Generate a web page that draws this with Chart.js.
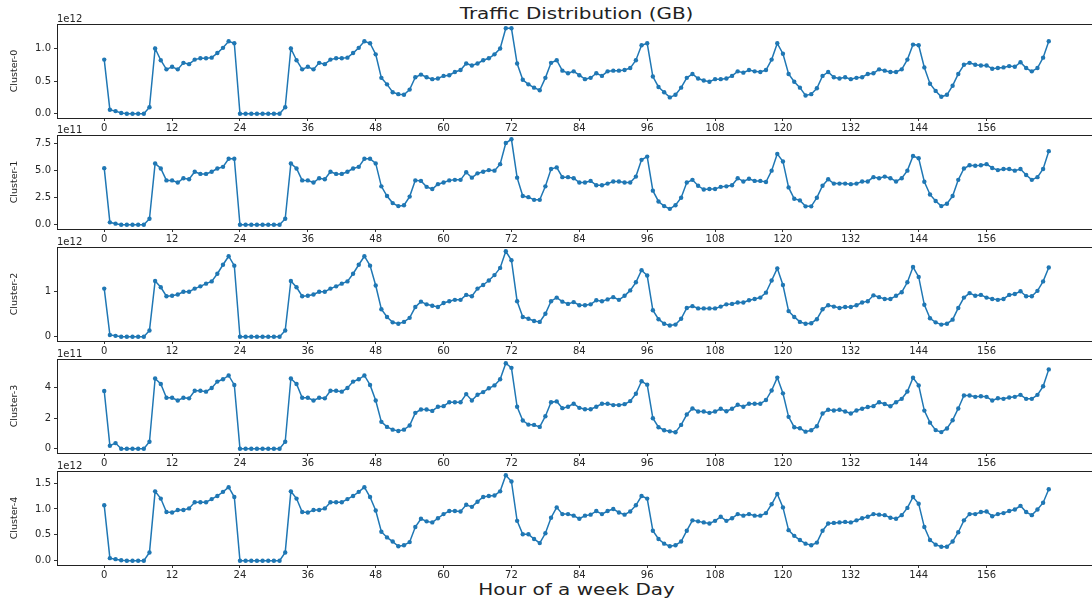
<!DOCTYPE html>
<html>
<head>
<meta charset="utf-8">
<script src="https://cdn.jsdelivr.net/npm/chart.js@4/dist/chart.umd.min.js"></script>
<style>
  html, body { margin: 0; padding: 0; background: #fff; }
  #figure { position: relative; width: 1092px; height: 602px; overflow: hidden; font-family: "DejaVu Sans", sans-serif; color: #222; }
  .panel { position: absolute; left: 0; width: 1100px; height: 128px; }
  .label { position: absolute; left: 57px; width: 1039px; text-align: center; font-size: 15px; line-height: 18px; transform: scaleX(1.33); }
</style>
</head>
<body>
<div id="figure">
  <div class="label" style="top:5px">Traffic Distribution (GB)</div>
  <div class="label" style="top:581px">Hour of a week Day</div>
</div>
<script>
// hour of the week (x values) and tick labels
const hours = Array.from({ length: 168 }, (_, i) => i);
const xTicks = [0, 12, 24, 36, 48, 60, 72, 84, 96, 108, 120, 132, 144, 156];

const clusterNames = ['Cluster-0', 'Cluster-1', 'Cluster-2', 'Cluster-3', 'Cluster-4'];
const exponents = ['1e12', '1e11', '1e12', '1e11', '1e12'];

// values in units of the exponent shown above each panel
const cluster0 = [
  0.83, 0.06, 0.04, 0.01, 0, 0, 0, 0, 0.10, 1.00, 0.82, 0.68,
  0.72, 0.68, 0.78, 0.76, 0.83, 0.85, 0.85, 0.86, 0.93, 1.01, 1.11, 1.08,
  0, 0, 0, 0, 0, 0, 0, 0, 0.10, 1.00, 0.82, 0.68,
  0.72, 0.68, 0.78, 0.76, 0.83, 0.85, 0.85, 0.86, 0.93, 1.01, 1.11, 1.08,
  0.91, 0.55, 0.45, 0.33, 0.30, 0.29, 0.37, 0.56, 0.60, 0.56, 0.53, 0.54,
  0.58, 0.59, 0.64, 0.67, 0.77, 0.74, 0.77, 0.82, 0.85, 0.91, 1.00, 1.31,
  1.31, 0.77, 0.52, 0.45, 0.40, 0.36, 0.55, 0.78, 0.82, 0.66, 0.62, 0.65,
  0.59, 0.53, 0.55, 0.62, 0.58, 0.65, 0.66, 0.66, 0.67, 0.70, 0.82, 1.05,
  1.08, 0.57, 0.41, 0.33, 0.25, 0.29, 0.40, 0.55, 0.61, 0.54, 0.51, 0.49,
  0.53, 0.53, 0.54, 0.58, 0.65, 0.63, 0.67, 0.65, 0.64, 0.67, 0.83, 1.08,
  0.92, 0.61, 0.49, 0.40, 0.28, 0.30, 0.39, 0.58, 0.64, 0.56, 0.54, 0.56,
  0.53, 0.55, 0.56, 0.61, 0.62, 0.68, 0.66, 0.64, 0.64, 0.68, 0.83, 1.06,
  1.05, 0.71, 0.46, 0.35, 0.26, 0.29, 0.43, 0.61, 0.75, 0.78, 0.75, 0.74,
  0.74, 0.69, 0.70, 0.71, 0.73, 0.72, 0.79, 0.70, 0.65, 0.70, 0.86, 1.11
];
const cluster1 = [
  5.23, 0.22, 0.10, 0, 0, 0, 0, 0, 0.55, 5.67, 5.20, 4.10,
  4.10, 3.90, 4.30, 4.20, 4.90, 4.70, 4.70, 4.90, 5.20, 5.35, 6.10, 6.10,
  0, 0, 0, 0, 0, 0, 0, 0, 0.55, 5.67, 5.20, 4.10,
  4.10, 3.90, 4.30, 4.20, 4.90, 4.70, 4.70, 4.90, 5.20, 5.35, 6.10, 6.10,
  5.67, 3.55, 2.65, 2.00, 1.72, 1.80, 2.60, 4.10, 4.05, 3.50, 3.30, 3.75,
  3.90, 4.10, 4.15, 4.15, 4.85, 4.35, 4.75, 4.90, 5.05, 5.00, 5.60, 7.55,
  7.90, 4.35, 2.65, 2.55, 2.30, 2.30, 3.55, 5.15, 5.30, 4.40, 4.40, 4.30,
  3.90, 3.90, 4.05, 3.65, 3.65, 3.80, 4.00, 4.00, 3.90, 3.90, 4.45, 6.00,
  6.30, 3.15, 2.15, 1.72, 1.47, 1.80, 2.50, 3.90, 4.15, 3.60, 3.25, 3.30,
  3.30, 3.50, 3.55, 3.65, 4.30, 4.00, 4.25, 4.05, 4.05, 3.95, 5.00, 6.55,
  5.85, 3.45, 2.40, 2.25, 1.70, 1.70, 2.50, 3.60, 4.20, 3.80, 3.80, 3.80,
  3.75, 3.80, 4.00, 4.00, 4.40, 4.30, 4.45, 4.30, 4.00, 4.30, 5.00, 6.35,
  6.15, 3.97, 2.80, 2.20, 1.72, 1.94, 2.65, 4.15, 5.20, 5.50, 5.45, 5.50,
  5.60, 5.25, 5.05, 5.15, 5.15, 5.00, 5.15, 4.60, 4.15, 4.40, 5.15, 6.80
];
const cluster2 = [
  1.07, 0.04, 0.02, 0, 0, 0, 0, 0, 0.14, 1.24, 1.10, 0.90,
  0.91, 0.94, 1.00, 1.00, 1.07, 1.12, 1.18, 1.23, 1.40, 1.60, 1.79, 1.58,
  0, 0, 0, 0, 0, 0, 0, 0, 0.14, 1.24, 1.10, 0.90,
  0.91, 0.94, 1.00, 1.00, 1.07, 1.12, 1.18, 1.23, 1.40, 1.60, 1.79, 1.58,
  1.14, 0.61, 0.44, 0.32, 0.29, 0.33, 0.42, 0.66, 0.78, 0.72, 0.69, 0.66,
  0.75, 0.79, 0.82, 0.82, 0.93, 0.90, 1.07, 1.15, 1.25, 1.37, 1.53, 1.90,
  1.70, 0.79, 0.44, 0.40, 0.35, 0.33, 0.51, 0.79, 0.87, 0.78, 0.73, 0.77,
  0.70, 0.70, 0.72, 0.81, 0.79, 0.83, 0.88, 0.82, 0.91, 1.03, 1.21, 1.48,
  1.36, 0.59, 0.39, 0.29, 0.25, 0.27, 0.40, 0.64, 0.68, 0.63, 0.63, 0.63,
  0.63, 0.67, 0.72, 0.73, 0.76, 0.76, 0.81, 0.84, 0.87, 0.98, 1.25, 1.52,
  1.15, 0.57, 0.44, 0.33, 0.29, 0.30, 0.39, 0.61, 0.70, 0.67, 0.64, 0.66,
  0.66, 0.70, 0.76, 0.79, 0.92, 0.88, 0.84, 0.84, 0.91, 0.99, 1.21, 1.55,
  1.33, 0.71, 0.41, 0.32, 0.27, 0.29, 0.38, 0.64, 0.87, 0.97, 0.91, 0.93,
  0.87, 0.84, 0.82, 0.84, 0.93, 0.95, 1.01, 0.90, 0.90, 1.02, 1.23, 1.54
];
const cluster3 = [
  3.78, 0.20, 0.37, 0, 0, 0, 0, 0, 0.46, 4.60, 4.24, 3.34,
  3.34, 3.16, 3.34, 3.30, 3.80, 3.80, 3.74, 3.98, 4.40, 4.55, 4.80, 4.18,
  0, 0, 0, 0, 0, 0, 0, 0, 0.46, 4.60, 4.24, 3.34,
  3.34, 3.16, 3.34, 3.30, 3.80, 3.80, 3.74, 3.98, 4.40, 4.55, 4.80, 4.18,
  3.16, 1.76, 1.43, 1.25, 1.16, 1.25, 1.52, 2.35, 2.57, 2.57, 2.48, 2.75,
  2.79, 3.05, 3.05, 3.05, 3.58, 3.16, 3.54, 3.71, 3.96, 4.15, 4.55, 5.60,
  5.30, 2.75, 1.85, 1.58, 1.56, 1.43, 2.13, 3.05, 3.10, 2.66, 2.75, 2.95,
  2.68, 2.59, 2.59, 2.75, 2.95, 2.95, 2.86, 2.86, 2.92, 3.12, 3.60, 4.42,
  4.20, 2.00, 1.41, 1.21, 1.14, 1.08, 1.56, 2.24, 2.64, 2.44, 2.44, 2.35,
  2.44, 2.62, 2.46, 2.62, 2.88, 2.75, 2.95, 2.95, 2.95, 3.19, 3.82, 4.66,
  3.63, 2.09, 1.41, 1.34, 1.12, 1.21, 1.47, 2.31, 2.55, 2.51, 2.55, 2.44,
  2.31, 2.51, 2.62, 2.73, 2.79, 3.05, 2.93, 2.78, 3.05, 3.27, 3.75, 4.65,
  4.15, 2.50, 1.71, 1.22, 1.09, 1.33, 1.87, 2.64, 3.49, 3.49, 3.40, 3.44,
  3.40, 3.16, 3.31, 3.27, 3.36, 3.40, 3.53, 3.27, 3.27, 3.53, 4.09, 5.20
];
const cluster4 = [
  1.07, 0.05, 0.03, 0.01, 0, 0, 0, 0, 0.16, 1.34, 1.20, 0.94,
  0.93, 0.98, 0.98, 1.01, 1.13, 1.13, 1.13, 1.19, 1.25, 1.33, 1.42, 1.23,
  0, 0, 0, 0, 0, 0, 0, 0, 0.16, 1.34, 1.20, 0.94,
  0.93, 0.98, 0.98, 1.01, 1.13, 1.13, 1.13, 1.19, 1.25, 1.33, 1.42, 1.23,
  0.97, 0.56, 0.45, 0.37, 0.28, 0.30, 0.36, 0.65, 0.81, 0.76, 0.74, 0.82,
  0.90, 0.96, 0.96, 0.95, 1.08, 1.04, 1.14, 1.23, 1.25, 1.26, 1.34, 1.65,
  1.53, 0.77, 0.51, 0.51, 0.42, 0.34, 0.53, 0.83, 1.03, 0.90, 0.90, 0.87,
  0.81, 0.87, 0.89, 0.96, 0.90, 0.96, 1.00, 0.93, 0.89, 0.95, 1.07, 1.25,
  1.20, 0.58, 0.42, 0.33, 0.28, 0.30, 0.37, 0.58, 0.78, 0.76, 0.74, 0.72,
  0.77, 0.85, 0.77, 0.82, 0.90, 0.87, 0.90, 0.87, 0.87, 0.92, 1.09, 1.29,
  1.03, 0.59, 0.48, 0.40, 0.33, 0.30, 0.35, 0.58, 0.72, 0.73, 0.74, 0.75,
  0.74, 0.78, 0.82, 0.85, 0.90, 0.89, 0.88, 0.83, 0.81, 0.88, 1.02, 1.23,
  1.10, 0.65, 0.40, 0.31, 0.27, 0.27, 0.37, 0.55, 0.78, 0.90, 0.90, 0.94,
  0.95, 0.86, 0.90, 0.92, 0.96, 0.99, 1.06, 0.94, 0.88, 0.99, 1.12, 1.38
];

// y tick positions and their labels, one pair per panel
const yTicks0 = [0, 0.5, 1.0];        const yLabels0 = ['0.0', '0.5', '1.0'];
const yTicks1 = [0, 2.5, 5.0, 7.5];   const yLabels1 = ['0.0', '2.5', '5.0', '7.5'];
const yTicks2 = [0, 1];               const yLabels2 = ['0', '1'];
const yTicks3 = [0, 2, 4];            const yLabels3 = ['0', '2', '4'];
const yTicks4 = [0, 0.5, 1.0, 1.5];   const yLabels4 = ['0.0', '0.5', '1.0', '1.5'];

const series = [cluster0, cluster1, cluster2, cluster3, cluster4];
const yTicks = [yTicks0, yTicks1, yTicks2, yTicks3, yTicks4];
const yLabels = [yLabels0, yLabels1, yLabels2, yLabels3, yLabels4];

// layout (px)
const PLOT_TOP = 23.6, PANEL_STEP = 111.8, PAD_TOP = 14, PLOT_H = 94, XAXIS_H = 20, YAXIS_W = 57;
const LINE = '#1f77b4';
const TEXT = '#262626';

// box around the plot, offset text above it, rotated panel label at the left
const framePlugin = {
  id: 'frame',
  afterDraw(chart, args, opts) {
    const { ctx, chartArea: a } = chart;
    ctx.save();
    ctx.strokeStyle = '#222';
    ctx.lineWidth = 1;
    ctx.strokeRect(Math.round(a.left) + 0.5, Math.round(a.top) + 0.5,
                   Math.round(a.right - a.left), Math.round(a.bottom - a.top));
    ctx.fillStyle = TEXT;
    ctx.font = '10px "DejaVu Sans"';
    ctx.textAlign = 'left';
    ctx.textBaseline = 'alphabetic';
    ctx.fillText(opts.offset, a.left, a.top - 2);
    ctx.translate(15, (a.top + a.bottom) / 2);
    ctx.rotate(-Math.PI / 2);
    ctx.textAlign = 'center';
    ctx.textBaseline = 'middle';
    ctx.font = '9.5px "DejaVu Sans"';
    ctx.fillText(opts.label, 0, 0);
    ctx.restore();
  }
};

const figure = document.getElementById('figure');

series.forEach((values, i) => {
  const wrap = document.createElement('div');
  wrap.className = 'panel';
  wrap.style.top = Math.round(PLOT_TOP + PANEL_STEP * i - PAD_TOP) + 'px';
  const canvas = document.createElement('canvas');
  canvas.width = 1100;
  canvas.height = PAD_TOP + PLOT_H + XAXIS_H;
  wrap.appendChild(canvas);
  figure.appendChild(wrap);

  // matplotlib style 5% margins
  const lo = Math.min(...values), hi = Math.max(...values);
  const span = hi - lo;

  new Chart(canvas.getContext('2d'), {
    type: 'line',
    data: {
      datasets: [{
        data: values.map((v, j) => ({ x: hours[j], y: v })),
        borderColor: LINE,
        backgroundColor: LINE,
        borderWidth: 1.5,
        pointRadius: 2.2,
        pointBorderWidth: 0,
        pointBackgroundColor: LINE,
        tension: 0
      }]
    },
    options: {
      responsive: false,
      animation: false,
      devicePixelRatio: 1,
      layout: { padding: { top: PAD_TOP, left: 0, right: 4, bottom: 0 } },
      plugins: {
        legend: { display: false },
        tooltip: { enabled: false },
        frame: { offset: exponents[i], label: clusterNames[i] }
      },
      scales: {
        x: {
          type: 'linear',
          min: -8.35,
          max: 175.35,
          afterBuildTicks: s => { s.ticks = xTicks.map(v => ({ value: v })); },
          afterFit: s => { s.height = XAXIS_H; },
          border: { display: false },
          grid: { drawOnChartArea: false, drawTicks: true, tickLength: 3, color: '#333' },
          ticks: {
            autoSkip: false, maxRotation: 0, padding: 1,
            color: TEXT, font: { family: 'DejaVu Sans', size: 10 },
            callback: v => String(v)
          }
        },
        y: {
          min: lo - span * 0.05,
          max: hi + span * 0.05,
          afterBuildTicks: s => { s.ticks = yTicks[i].map(v => ({ value: v })); },
          afterFit: s => { s.width = YAXIS_W; },
          border: { display: false },
          grid: { drawOnChartArea: false, drawTicks: true, tickLength: 3, color: '#333' },
          ticks: {
            padding: 3,
            color: TEXT, font: { family: 'DejaVu Sans', size: 10 },
            callback: (v, idx) => yLabels[i][idx]
          }
        }
      }
    },
    plugins: [framePlugin]
  });
});
</script>
</body>
</html>
